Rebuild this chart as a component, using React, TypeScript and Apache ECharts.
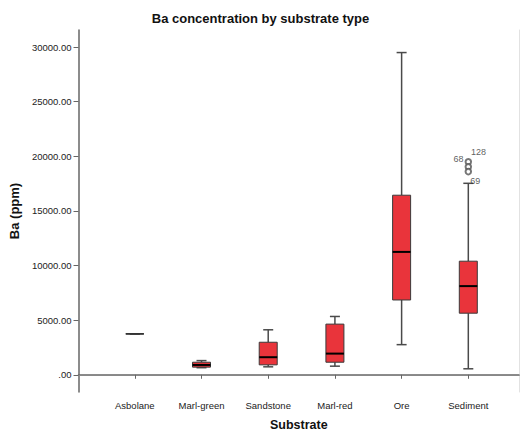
import React, { useEffect, useRef } from "react";
import * as echarts from "echarts";

// Ba (ppm) summary per substrate: whisker ends, quartiles and median
const categories = ["Asbolane", "Marl-green", "Sandstone", "Marl-red", "Ore", "Sediment"];
const whiskerLow = [3750, 650, 730, 790, 2760, 550];
const quartile1 = [3750, 700, 910, 1150, 6850, 5640];
const medians = [3750, 900, 1610, 1940, 11250, 8120];
const quartile3 = [3750, 1150, 2980, 4640, 16440, 10400];
const whiskerHigh = [3750, 1300, 4120, 5340, 29500, 17530];

// Sediment outliers and case labels
const outlierValues = [19500, 19050, 18600];
const outlierCases = ["68", "128", ""];
const capCase = "69";
const yTicks = [0, 5000, 10000, 15000, 20000, 25000, 30000];

const BOX_FILL = "#E9343B";
const LINE = "#4a4a4a";

export default function App() {
  const ref = useRef<HTMLDivElement>(null);

  useEffect(() => {
    if (!ref.current) return;
    const chart = echarts.init(ref.current, null, { renderer: "svg" });

    const boxData = categories.map((_, i) => [
      i + 1,
      whiskerLow[i],
      quartile1[i],
      medians[i],
      quartile3[i],
      whiskerHigh[i],
    ]);

    const sediment = categories.indexOf("Sediment") + 1;
    const labelLayouts: any[] = [
      { position: "left", distance: 1, offset: [0, -3] },
      { position: "right", distance: 0, offset: [-1, -15] },
      { position: "right", distance: 0, offset: [0, 0] },
    ];
    const outlierData: any[] = outlierValues.map((v, i) => ({
      value: [sediment, v],
      label: {
        show: outlierCases[i] !== "",
        formatter: outlierCases[i],
        ...labelLayouts[i],
      },
    }));
    outlierData.push({
      value: [sediment, whiskerHigh[sediment - 1]],
      symbolSize: 0,
      label: { show: true, formatter: capCase, position: "right", distance: 2, offset: [0, -2] },
    });

    const fmt = (v: number) => (v === 0 ? ".00" : v.toFixed(2));

    chart.setOption({
      animation: false,
      backgroundColor: "#ffffff",
      textStyle: { fontFamily: "Liberation Sans, Arial, sans-serif" },
      title: {
        text: "Ba concentration by substrate type",
        left: "center",
        top: 7,
        textStyle: { fontSize: 13, fontWeight: "bold", color: "#111" },
      },
      grid: { left: 73, top: 30, right: 2, bottom: 42 },
      xAxis: [
        {
          type: "value",
          min: 0.156,
          max: 6.76,
          name: "Substrate",
          nameLocation: "middle",
          nameGap: 26,
          nameTextStyle: { fontSize: 12.5, fontWeight: "bold", color: "#111" },
          axisLine: { show: true, lineStyle: { color: "#666", width: 1.5 } },
          axisTick: { show: true, length: 4, customValues: [1, 2, 3, 4, 5, 6], lineStyle: { color: "#666" } },
          axisLabel: {
            customValues: [1, 2, 3, 4, 5, 6],
            formatter: (v: number) => categories[Math.round(v) - 1] ?? "",
            fontSize: 9.5,
            color: "#222",
            margin: 8,
          },
          splitLine: { show: false },
        },
        {
          type: "value",
          position: "top",
          min: 0.156,
          max: 6.76,
          axisLine: { show: true, lineStyle: { color: "#888", width: 1.2 } },
          axisTick: { show: false },
          axisLabel: { show: false },
          splitLine: { show: false },
        },
      ],
      yAxis: [
        {
          type: "value",
          min: -1575,
          max: 31565,
          name: "Ba (ppm)",
          nameLocation: "middle",
          nameGap: 53,
          nameTextStyle: { fontSize: 13, fontWeight: "bold", color: "#111" },
          axisLine: { show: true, lineStyle: { color: "#666", width: 1.5 } },
          axisTick: { show: true, length: 5, customValues: yTicks, lineStyle: { color: "#666" } },
          axisLabel: {
            customValues: yTicks,
            formatter: fmt,
            fontSize: 9.5,
            color: "#222",
            margin: 7,
          },
          splitLine: { show: false },
        },
        {
          type: "value",
          position: "right",
          min: -1575,
          max: 31565,
          axisLine: { show: true, lineStyle: { color: "#e2e2e2", width: 1 } },
          axisTick: { show: false },
          axisLabel: { show: false },
          splitLine: { show: false },
        },
      ],
      series: [
        {
          type: "custom",
          xAxisIndex: 0,
          yAxisIndex: 0,
          data: boxData,
          renderItem: (_params: any, api: any) => {
            const x = api.value(0);
            const lo = api.coord([x, api.value(1)]);
            const q1 = api.coord([x, api.value(2)]);
            const med = api.coord([x, api.value(3)]);
            const q3 = api.coord([x, api.value(4)]);
            const hi = api.coord([x, api.value(5)]);
            const cx = lo[0];
            const boxW = 18;
            const capW = 10;
            const line = { stroke: LINE, lineWidth: 1.5 };
            const flat = q1[1] - q3[1] < 0.5;
            return {
              type: "group",
              children: [
                { type: "line", shape: { x1: cx, y1: q3[1], x2: cx, y2: hi[1] }, style: line },
                { type: "line", shape: { x1: cx, y1: q1[1], x2: cx, y2: lo[1] }, style: line },
                { type: "line", shape: { x1: cx - capW / 2, y1: hi[1], x2: cx + capW / 2, y2: hi[1] }, style: line },
                { type: "line", shape: { x1: cx - capW / 2, y1: lo[1], x2: cx + capW / 2, y2: lo[1] }, style: line },
                {
                  type: "rect",
                  shape: { x: cx - boxW / 2, y: q3[1], width: boxW, height: q1[1] - q3[1] },
                  style: { fill: BOX_FILL, stroke: "#3a3a3a", lineWidth: 1 },
                },
                {
                  type: "line",
                  shape: { x1: cx - boxW / 2, y1: med[1], x2: cx + boxW / 2, y2: med[1] },
                  style: { stroke: flat ? "#333" : "#000", lineWidth: flat ? 1.6 : 2 },
                },
              ],
            };
          },
        },
        {
          type: "scatter",
          xAxisIndex: 0,
          yAxisIndex: 0,
          symbol: "emptyCircle",
          symbolSize: 5.5,
          itemStyle: { color: "#555", borderColor: "#555", borderWidth: 1 },
          label: { fontSize: 9, color: "#333" },
          data: outlierData,
          z: 5,
        },
      ],
    });

    return () => chart.dispose();
  }, []);

  return (
    <div
      ref={ref}
      style={{ position: "fixed", left: 0, top: 0, width: 521, height: 436 }}
    />
  );
}
